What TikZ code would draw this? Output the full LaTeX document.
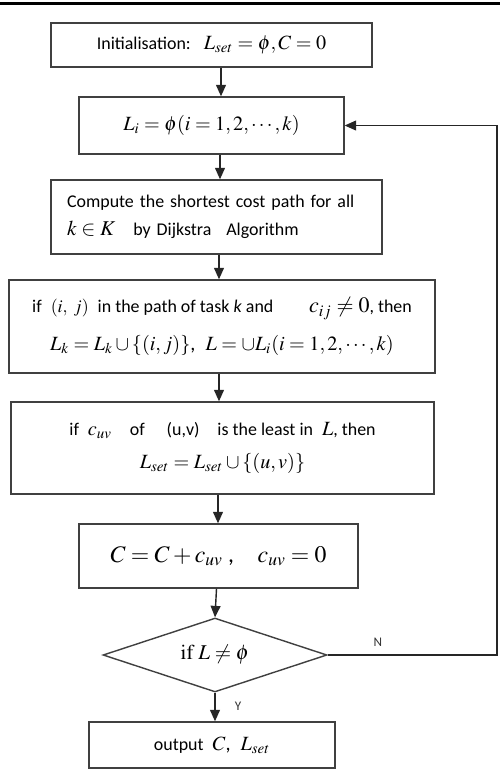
\documentclass[tikz,border=0pt]{standalone}
\usepackage{mathptmx}
\usepackage[no-math]{fontspec}
\setmainfont{Carlito}
\usetikzlibrary{shapes.geometric,arrows.meta}

\begin{document}
\begin{tikzpicture}[x=0.02cm,y=-0.02cm,
  box/.style={draw=black!75, line width=0.8pt, fill=white, inner sep=0pt, align=center, font=\fontsize{10.2}{12}\selectfont},
  arr/.style={draw=black!85, line width=0.8pt, -{Triangle[length=6.5pt,width=5.6pt]}},
  yn/.style={font=\fontsize{7.5}{9}\selectfont, text=black!80}]
\useasboundingbox (0,0) rectangle (500,769);
\draw[line width=1.3pt] (0,3.5) -- (500,3.5);
\node[box, minimum width=6.42cm, minimum height=0.88cm] (init) at (211.5,45) {Initialisation:\enspace\ {\fontsize{11.5}{13}\selectfont$L_{set}=\phi, C=0$}};
\node[box, minimum width=5.30cm, minimum height=1.14cm, font=\fontsize{11.5}{13}\selectfont] (Li) at (211.5,125.5) {$L_i=\phi(i=1,2,\cdots,k)$};
\node[box, minimum width=6.62cm, minimum height=1.48cm, text width=5.98cm, align=left] (dijk) at (216.5,217) {Compute the shortest cost path for all\\[4pt]{\fontsize{12}{13}\selectfont$k\in K$}\quad by Dijkstra\enspace\ Algorithm};
\node[box, minimum width=8.52cm, minimum height=1.86cm] (pathbox) at (222,326.5) {if\enspace $(i,\ j)$\enspace in the path of task \textit{k} and\qquad {\fontsize{12.5}{13}\selectfont$c_{ij}\neq 0$}, then\\[8pt]{\fontsize{11.5}{13}\selectfont$L_k=L_k\cup\{(i,j)\}$,\enspace $L=\cup L_i(i=1,2,\cdots,k)$}};
\node[box, minimum width=8.46cm, minimum height=1.84cm] (least) at (222.5,448) {if\enspace {\fontsize{11.5}{13}\selectfont$c_{uv}$}\quad of\quad\ (u,v)\quad is the least in\enspace {\fontsize{11.5}{13}\selectfont$L$}, then\\[7pt]{\fontsize{11.5}{13}\selectfont$L_{set}=L_{set}\cup\{(u,v)\}$}};
\node[box, minimum width=5.58cm, minimum height=1.28cm, font=\fontsize{13.5}{15}\selectfont] (update) at (218.5,556) {$C=C+c_{uv}$\ ,\quad $c_{uv}=0$};
\node[box, diamond, aspect=3, minimum width=4.48cm, minimum height=1.48cm, font=\fontsize{12}{14}\selectfont] (test) at (215,655) {$\mathrm{if}\ L\neq\phi$};
\node[box, minimum width=4.92cm, minimum height=0.92cm] (out) at (212,745) {output\enspace {\fontsize{11.5}{13}\selectfont$C$,\enspace $L_{set}$}};
\coordinate (fb) at (497,655);
\draw[arr] (init.south -| 221,0) -- (Li.north -| 221,0);
\draw[arr] (Li.south -| 220,0) -- (dijk.north -| 220,0);
\draw[arr] (dijk.south -| 219,0) -- (pathbox.north -| 219,0);
\draw[arr] (pathbox.south -| 219,0) -- (least.north -| 219,0);
\draw[arr] (least.south -| 218,0) -- (update.north -| 218,0);
\draw[arr] (update.south -| 216.5,0) -- (test.north);
\draw[arr] (test.south) -- (test.south |- out.north);
\draw[arr] (test.east) -- (fb) |- (Li.east);
\node[yn] (nlab) at (378,642) {N};
\node[yn] (ylab) at (238,706) {Y};
\end{tikzpicture}
\end{document}
